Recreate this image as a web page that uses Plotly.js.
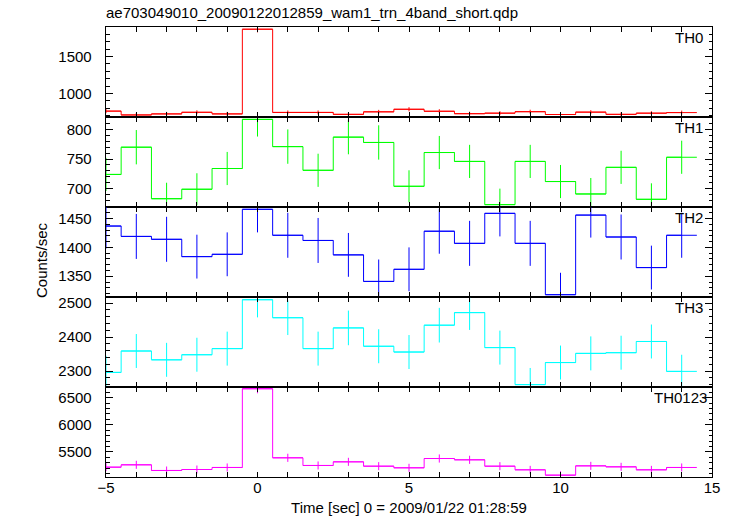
<!DOCTYPE html>
<html>
<head>
<meta charset="utf-8">
<script src="https://cdn.plot.ly/plotly-3.0.1.min.js"></script>
<style>html,body{margin:0;padding:0;background:#fff}</style>
</head>
<body>
<div id="chart" style="width:733px;height:516px"></div>
<script>
// ---- data ----
const timeSec = [-5,-4,-3,-2,-1,0,1,2,3,4,5,6,7,8,9,10,11,12,13,14];
const binHalfWidth = [0.5,0.5,0.5,0.5,0.5,0.5,0.5,0.5,0.5,0.5,0.5,0.5,0.5,0.5,0.5,0.5,0.5,0.5,0.5,0.5];
const th0    = [760,708,722,744,722,1872,742,742,716,750,785,758,725,732,752,714,746,716,732,740];
const th0Err = [28,27,27,27,27,43,27,27,27,27,28,28,27,27,27,27,27,27,27,27];
const th1    = [724,770,683,699,734,817,771,731,787,778,704,761,746,673,746,712,691,736,682,753];
const th1Err = [28,29,27,27,28,29,29,28,29,29,27,28,28,27,28,28,27,28,27,28];
const th2    = [1437,1419,1414,1384,1388,1466,1421,1412,1387,1341,1362,1428,1407,1459,1407,1318,1456,1418,1365,1421];
const th2Err = [39,39,39,38,38,40,39,39,38,38,38,39,39,40,39,38,39,39,38,39];
const th3    = [2296,2359,2333,2348,2366,2510,2457,2366,2427,2373,2356,2435,2472,2369,2260,2325,2352,2354,2387,2299];
const th3Err = [49,50,50,50,50,52,51,50,51,50,50,51,51,50,49,50,50,50,50,49];
const th0123    = [5221,5264,5160,5178,5215,6663,5393,5252,5319,5239,5209,5380,5356,5239,5172,5074,5245,5227,5172,5215];
const th0123Err = [74,74,73,73,74,83,75,74,74,74,74,75,75,74,73,73,74,74,73,74];

const bandNames = ["TH0","TH1","TH2","TH3","TH0123"];
const bandValues = [th0, th1, th2, th3, th0123];
const bandErrors = [th0Err, th1Err, th2Err, th3Err, th0123Err];
const bandColors = ["#ff0000","#00ff00","#0000ff","#00ffff","#ff00ff"];
const yRanges = [[680,1902],[669,821],[1314,1470],[2253,2518],[5040,6695]];
const yMajor = [500,50,50,100,500];
const yMinor = [100,10,10,20,100];
const titleText = "ae703049010_20090122012859_wam1_trn_4band_short.qdp";
const xTitleText = "Time [sec] 0 = 2009/01/22 01:28:59";
const yTitleText = "Counts/sec";

// ---- build ----
const FONT = "Liberation Sans, Arial, Helvetica, sans-serif";
const traces = [];
const layout = {
  width: 733, height: 516,
  margin: {l: 106, r: 21, t: 27, b: 39},
  paper_bgcolor: "#ffffff", plot_bgcolor: "#ffffff",
  showlegend: false,
  font: {family: FONT, size: 15, color: "#000"},
  title: {text: titleText, font: {family: FONT, size: 15, color: "#000"},
          x: 0, xref: "paper", xanchor: "left", y: 0.985, yref: "container", yanchor: "top"},
  annotations: [
    {text: yTitleText, textangle: -90, xref: "paper", yref: "paper",
     x: (41 - 106) / 606, y: (477 - 260) / 450, xanchor: "center", yanchor: "middle",
     showarrow: false, font: {family: FONT, size: 15, color: "#000"}}
  ]
};
const labelShift = [-7, -7, -7, -7, -3];
const n = bandNames.length;
for (let i = 0; i < n; i++) {
  const sfx = i === 0 ? "" : String(i + 1);
  const top = 1 - i / n, bot = 1 - (i + 1) / n;
  traces.push({
    type: "scatter", mode: "lines",
    x: timeSec, y: bandValues[i],
    xaxis: "x" + sfx, yaxis: "y" + sfx,
    line: {color: bandColors[i], width: 1, shape: "hvh"},
    error_y: {type: "data", array: bandErrors[i], visible: true, color: bandColors[i], thickness: 1, width: 0},
    error_x: {type: "data", array: binHalfWidth, visible: true, color: bandColors[i], thickness: 1, width: 0},
    hoverinfo: "x+y"
  });
  layout["xaxis" + sfx] = {
    domain: [0, 1], anchor: "y" + sfx, range: [-5, 15],
    tick0: 0, dtick: 5, ticks: "inside", ticklen: 5, tickwidth: 1, tickcolor: "#000",
    minor: {dtick: 1, ticks: "inside", ticklen: 5, tickwidth: 1, tickcolor: "#000", showgrid: false},
    showline: true, linecolor: "#000", linewidth: 1.3, mirror: "allticks",
    showgrid: false, zeroline: false,
    showticklabels: i === n - 1, ticklabelstandoff: -3,
    tickfont: {family: FONT, size: 15, color: "#000"},
    matches: i === 0 ? undefined : "x"
  };
  if (i === n - 1) {
    layout["xaxis" + sfx].title = {text: xTitleText, font: {family: FONT, size: 15, color: "#000"}, standoff: 8};
  }
  layout["yaxis" + sfx] = {
    domain: [bot, top], anchor: "x" + sfx, range: yRanges[i],
    dtick: yMajor[i], ticks: "inside", ticklen: 7, tickwidth: 1, tickcolor: "#000",
    minor: {dtick: yMinor[i], ticks: "inside", ticklen: 3.5, tickwidth: 1, tickcolor: "#000", showgrid: false},
    showline: true, linecolor: "#000", linewidth: 1.3, mirror: "allticks",
    showgrid: false, zeroline: false,
    ticklabelstandoff: 10,
    tickfont: {family: FONT, size: 15, color: "#000"}
  };
  layout.annotations.push({
    text: bandNames[i], xref: "paper", yref: "paper", x: 1, y: top,
    xanchor: "right", yanchor: "top", xshift: labelShift[i], yshift: 0,
    showarrow: false, font: {family: FONT, size: 15, color: "#000"}
  });
}
Plotly.newPlot("chart", traces, layout, {displayModeBar: false, staticPlot: true});
</script>
</body>
</html>
